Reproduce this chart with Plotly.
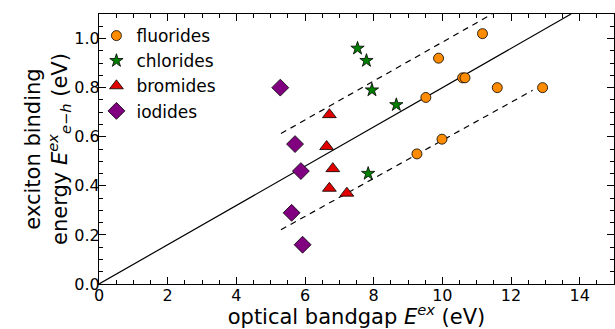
import plotly.graph_objects as go

# --- data ---
fluor_x = [11.17, 9.89, 10.59, 10.66, 9.52, 11.60, 12.92, 9.99, 9.26]
fluor_y = [1.02, 0.92, 0.84, 0.84, 0.76, 0.80, 0.80, 0.59, 0.53]

chlor_x = [7.53, 7.79, 7.95, 8.66, 7.84]
chlor_y = [0.96, 0.91, 0.79, 0.73, 0.45]

brom_x = [6.71, 6.63, 6.81, 6.71, 7.22]
brom_y = [0.69, 0.56, 0.47, 0.39, 0.37]

iod_x = [5.28, 5.71, 5.88, 5.61, 5.93]
iod_y = [0.80, 0.57, 0.46, 0.29, 0.16]

# guide lines (endpoints)
solid_x = [0.0, 13.75]
solid_y = [0.0, 1.10]
upper_x = [5.3, 11.45]
upper_y = [0.613, 1.10]
lower_x = [5.3, 12.63]
lower_y = [0.221, 0.789]

x_ticks = [0, 2, 4, 6, 8, 10, 12, 14]
y_ticks = [0.0, 0.2, 0.4, 0.6, 0.8, 1.0]

FONT = "DejaVu Sans"

fig = go.Figure()

fig.add_trace(go.Scatter(x=solid_x, y=solid_y, mode="lines",
                         line=dict(color="black", width=1.2), showlegend=False, hoverinfo="skip"))
fig.add_trace(go.Scatter(x=upper_x, y=upper_y, mode="lines",
                         line=dict(color="black", width=1.2, dash="6px,5px"), showlegend=False, hoverinfo="skip"))
fig.add_trace(go.Scatter(x=lower_x, y=lower_y, mode="lines",
                         line=dict(color="black", width=1.2, dash="6px,5px"), showlegend=False, hoverinfo="skip"))

mline = dict(color="black", width=0.8)
fig.add_trace(go.Scatter(x=fluor_x, y=fluor_y, mode="markers", name="fluorides",
                         marker=dict(symbol="circle", size=10, color="#ff8c00", line=mline)))
fig.add_trace(go.Scatter(x=chlor_x, y=chlor_y, mode="markers", name="chlorides",
                         marker=dict(symbol="star", size=10, color="#008000", line=mline)))
fig.add_trace(go.Scatter(x=brom_x, y=brom_y, mode="markers", name="bromides",
                         marker=dict(symbol="triangle-up", size=12, color="#e00000", line=mline)))
fig.add_trace(go.Scatter(x=iod_x, y=iod_y, mode="markers", name="iodides",
                         marker=dict(symbol="diamond", size=13, color="#800080", line=mline)))

axis_common = dict(
    showline=True, linecolor="black", linewidth=1.2, mirror="ticks",
    ticks="inside", ticklen=7, tickwidth=1, tickcolor="black",
    showgrid=False, zeroline=False,
    tickfont=dict(family=FONT, size=16, color="black"),
)

fig.update_xaxes(range=[0, 15], tickvals=x_ticks, ticktext=[str(v) for v in x_ticks],
                 minor=dict(dtick=0.5, ticks="inside", ticklen=4, tickcolor="black", showgrid=False),
                 ticklabelstandoff=-3,
                 title=dict(text="optical bandgap <i>E</i><sup><i>ex</i></sup> (eV)",
                            font=dict(family=FONT, size=21, color="black"), standoff=0),
                 **axis_common)
fig.update_yaxes(range=[0, 1.1], tickvals=y_ticks, ticktext=[f"{v:.1f}" for v in y_ticks],
                 minor=dict(dtick=0.05, ticks="inside", ticklen=4, tickcolor="black", showgrid=False),
                 ticklabelstandoff=-5,
                 title=dict(text="exciton binding<br>energy <i>E</i><sup><i>ex</i></sup><sub><i>e−h</i></sub> (eV)",
                            font=dict(family=FONT, size=21, color="black"), standoff=0),
                 **axis_common)

fig.update_layout(
    width=615, height=329,
    margin=dict(l=99, r=1, t=14, b=45),
    paper_bgcolor="white", plot_bgcolor="white",
    font=dict(family=FONT, color="black"),
    legend=dict(x=-0.005, y=0.985, xanchor="left", yanchor="top",
                bgcolor="rgba(0,0,0,0)", font=dict(family=FONT, size=17, color="black"),
                tracegroupgap=0, itemwidth=30),
)

fig.write_html("out.html")
